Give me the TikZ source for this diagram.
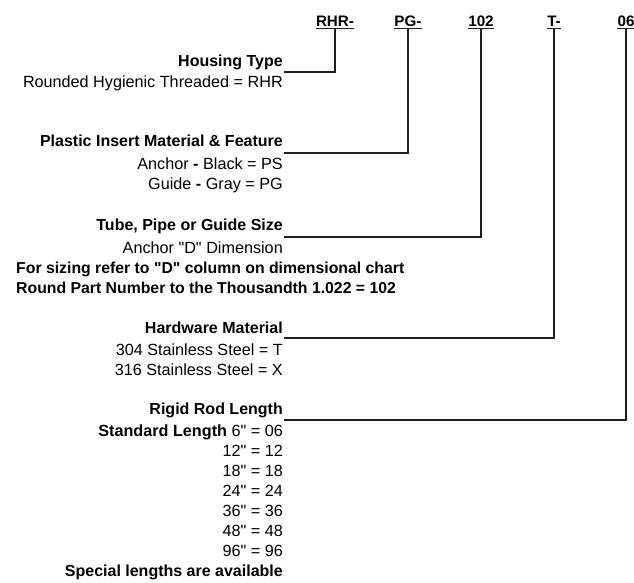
\documentclass[tikz,border=0pt]{standalone}
\usepackage{fontspec}
\setmainfont{Liberation Sans}[Ligatures=TeXOff]
\newcommand{\dq}{\symbol{34}}
\begin{document}
\begin{tikzpicture}[x=1pt,y=-1pt,
  txt/.style={anchor=base east,inner sep=0pt,font=\fontsize{16.2}{20}\selectfont},
  btxt/.style={txt,font=\fontsize{16}{20}\selectfont\bfseries},
  ltxt/.style={anchor=base west,inner sep=0pt,font=\fontsize{15.8}{20}\selectfont\bfseries},
  hdr/.style={anchor=base,inner sep=0pt,font=\fontsize{15.2}{18}\selectfont\bfseries},
  conn/.style={line width=2.3pt,color=black!88},
  uline/.style={line width=1.2pt,color=black!88}]
\useasboundingbox (0,0) rectangle (634,582);
% header codes
\node[hdr] (h1) at (335,26) {RHR-};
\node[hdr] (h2) at (408,26) {PG-};
\node[hdr] (h3) at (481,26) {102};
\node[hdr] (h4) at (554,26) {T-};
\node[hdr] (h5) at (626,26) {06};
\foreach \h in {h1,h2,h3,h4,h5}{
  \draw[uline] ([yshift=-2.6pt]\h.base west) -- ([yshift=-2.6pt]\h.base east);
}
% left texts
\node[btxt] (t1) at (283,66) {Housing Type};
\node[txt] at (283,87) {Rounded Hygienic Threaded = RHR};
\node[btxt] (t2) at (283,146) {Plastic Insert Material \& Feature};
\node[txt] at (283,169) {Anchor {\bfseries -} Black = PS};
\node[txt] at (283,189) {Guide {\bfseries -} Gray = PG};
\node[btxt] (t3) at (283,230) {Tube, Pipe or Guide Size};
\node[txt] at (283,253) {Anchor \dq D\dq{} Dimension};
\node[ltxt] at (16,273) {For sizing refer to \dq D\dq{} column on dimensional chart};
\node[ltxt] at (16,293) {Round Part Number to the Thousandth 1.022 = 102};
\node[btxt] (t4) at (283,333) {Hardware Material};
\node[txt] at (283,355) {304 Stainless Steel = T};
\node[txt] at (283,375) {316 Stainless Steel = X};
\node[btxt] (t5) at (283,414) {Rigid Rod Length};
\node[txt] at (283,436) {{\bfseries Standard Length} 6\dq{} = 06};
\node[txt] at (283,456) {12\dq{} = 12};
\node[txt] at (283,476) {18\dq{} = 18};
\node[txt] at (283,496) {24\dq{} = 24};
\node[txt] at (283,516) {36\dq{} = 36};
\node[txt] at (283,536) {48\dq{} = 48};
\node[txt] at (283,556) {96\dq{} = 96};
\node[btxt] at (283,576) {Special lengths are available};
% connector end points
\coordinate (c1) at (284,72);
\coordinate (c2) at (284,153);
\coordinate (c3) at (284,237);
\coordinate (c4) at (284,338);
\coordinate (c5) at (284,420);
\draw[conn] ([yshift=-3pt]h1.base) |- (c1);
\draw[conn] ([yshift=-3pt]h2.base) |- (c2);
\draw[conn] ([yshift=-3pt]h3.base) |- (c3);
\draw[conn] ([yshift=-3pt]h4.base) |- (c4);
\draw[conn] ([yshift=-3pt]h5.base) |- (c5);
\end{tikzpicture}
\end{document}
